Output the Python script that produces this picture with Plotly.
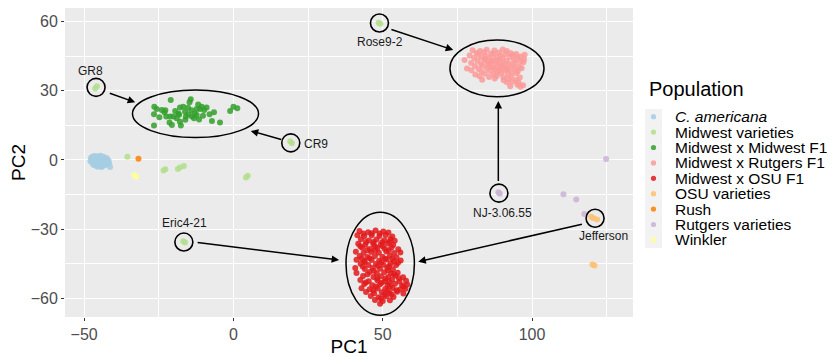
import plotly.graph_objects as go

# ---------------- data ----------------
populations = ["C. americana", "Midwest varieties", "Midwest x Midwest F1",
               "Midwest x Rutgers F1", "Midwest x OSU F1", "OSU varieties",
               "Rush", "Rutgers varieties", "Winkler"]
legend_labels = ["<i>C. americana</i>", "Midwest varieties", "Midwest x Midwest F1",
                 "Midwest x Rutgers F1", "Midwest x OSU F1", "OSU varieties",
                 "Rush", "Rutgers varieties", "Winkler"]
colors = ["#A6CEE3", "#B2DF8A", "#33A02C", "#FB9A99", "#E31A1C",
          "#FDBF6F", "#FF7F00", "#CAB2D6", "#FFFF99"]

camericana_x = [-47.7, -47.3, -46.9, -46.1, -45.3, -44.6, -43.8, -43.0, -42.3,
                -47.6, -47.0, -46.3, -45.5, -44.8, -44.0, -43.2, -42.5, -41.8,
                -47.9, -47.4, -46.7, -45.8, -45.0, -44.2, -43.4, -42.6, -41.9,
                -47.2, -46.4, -45.6, -44.7, -43.9, -43.1, -42.4,
                -46.8, -45.9, -45.1, -44.3, -43.5, -42.8,
                -41.3, -41.6, -45.4, -44.1]
camericana_y = [0.8, 1.3, 1.6, 1.7, 1.4, 1.8, 1.5, 1.1, 0.6,
                0.2, 0.6, 1.0, 0.4, 0.8, 0.3, 0.5, 0.0, -0.3,
                -0.6, -0.4, -0.1, -0.7, -0.2, -0.5, -0.9, -0.7, -1.1,
                -1.4, -1.1, -1.7, -1.3, -1.9, -1.5, -2.0,
                -2.2, -2.6, -2.3, -2.7, -2.4, -2.1,
                -3.0, -1.5, -2.9, -3.1]

midwest_var_x = [-35.5, -23.4, -22.8, -18.6, -17.9, -16.6, 4.2, 4.8,
                 -46.3, -45.7, 19.0, 19.6, -16.8, -16.2, 48.6, 49.2]
midwest_var_y = [1.4, -4.6, -4.0, -3.9, -3.3, -2.6, -7.6, -6.8,
                 31.0, 32.0, 8.1, 7.3, -35.2, -35.8, 59.5, 59.1]

mxm_pts = [(-21.0, 26.0), (-14.3, 26.3), (-14.7, 25.0), (-26.5, 23.1), (-25.7, 22.1),
           (-24.0, 21.7), (-26.6, 19.8), (-24.8, 18.5), (-23.1, 20.7), (-21.2, 18.8),
           (-19.5, 21.2), (-17.9, 22.7), (-16.8, 23.1), (-16.2, 20.9), (-15.1, 19.8),
           (-13.9, 18.8), (-13.2, 18.1), (-12.3, 19.5), (-11.2, 22.1), (-10.6, 23.1),
           (-9.8, 21.7), (-8.0, 19.8), (-6.5, 20.7), (-7.2, 16.9), (-4.5, 16.2),
           (-19.0, 18.1), (-17.9, 16.6), (-17.6, 14.9), (-21.4, 16.3), (-20.6, 15.2),
           (-26.6, 14.9), (-1.1, 21.2), (0.0, 23.1), (1.3, 22.4), (-15.9, 18.8),
           (-18.4, 20.2), (-20.1, 18.8), (-12.3, 22.1), (-22.5, 18.8), (-14.0, 21.6),
           (-13.0, 20.3), (-16.1, 17.4), (-11.8, 24.0), (-10.2, 19.2), (-18.2, 19.6),
           (-15.2, 22.6), (-11.5, 17.6), (-22.8, 21.6), (-9.0, 22.8)]

mxr_pts = [(80.1, 47.6), (82.6, 47.3), (84.8, 47.8), (87.4, 47.5), (90.2, 47.9), (91.6, 47.2),
           (81.4, 46.4), (83.9, 46.7), (86.3, 46.2), (88.9, 46.6), (92.9, 46.3), (94.7, 46.0), (97.5, 45.6),
           (79.1, 45.3), (82.1, 45.6), (84.6, 45.1), (87.1, 45.7), (89.4, 45.2), (91.1, 45.8), (93.6, 45.4), (96.1, 44.9),
           (80.6, 44.2), (83.1, 44.5), (85.8, 44.0), (88.1, 44.4), (90.2, 44.1), (92.6, 44.6), (95.1, 44.2), (97.3, 43.6),
           (77.4, 43.3), (81.7, 43.0), (84.3, 43.4), (86.6, 43.1), (89.1, 43.5), (91.5, 43.0), (93.9, 43.3), (96.2, 42.8),
           (79.6, 42.1), (82.9, 41.8), (85.1, 42.3), (87.9, 41.9), (90.1, 42.2), (92.3, 41.7), (94.4, 42.0), (97.1, 42.4),
           (80.9, 40.7), (83.4, 40.9), (86.1, 40.5), (88.6, 40.9), (91.1, 40.6), (93.3, 40.8), (95.7, 40.4),
           (78.2, 39.7), (82.1, 39.4), (84.9, 39.8), (87.3, 39.5), (89.7, 39.9), (92.1, 39.3), (94.3, 39.6), (96.5, 39.8),
           (79.7, 38.9), (83.1, 38.4), (85.9, 38.6), (88.4, 38.3), (90.9, 38.7), (93.1, 38.2), (95.2, 38.5),
           (81.0, 37.1), (84.2, 37.4), (87.1, 37.2), (89.6, 37.5), (91.9, 37.0), (94.8, 37.6),
           (82.4, 36.3), (85.6, 36.0), (88.1, 36.4), (90.4, 35.9), (93.1, 36.2), (95.9, 35.8),
           (83.3, 34.8), (87.5, 35.3), (90.5, 34.6), (92.1, 35.0), (94.6, 34.7),
           (91.6, 33.7), (93.5, 33.9), (95.5, 33.6),
           (92.7, 32.0), (95.1, 32.6), (97.0, 32.4), (96.1, 31.7),
           (86.4, 42.7), (88.2, 43.0), (89.9, 41.1), (87.0, 40.1), (89.0, 38.9), (91.4, 39.6),
           (85.4, 41.2), (84.2, 43.9)]

mxo_pts = [(42.2, -30.8), (45.1, -31.3), (47.6, -30.6), (50.2, -31.0), (51.9, -31.5),
           (41.5, -32.6), (43.8, -33.1), (46.3, -32.7), (48.9, -33.0), (51.0, -32.5), (53.2, -33.2),
           (42.7, -34.4), (45.4, -34.9), (47.9, -34.5), (50.5, -34.8), (52.6, -34.3), (54.0, -35.0),
           (41.8, -36.3), (44.2, -36.8), (46.8, -36.4), (49.3, -36.7), (51.7, -36.2), (53.5, -36.9),
           (43.1, -38.1), (45.7, -38.6), (48.2, -38.2), (50.6, -38.5), (52.9, -38.0), (55.2, -38.7),
           (41.0, -39.8), (43.6, -40.3), (46.1, -39.9), (48.7, -40.2), (51.2, -39.7), (53.8, -40.4), (55.9, -40.1),
           (42.3, -41.6), (44.9, -42.1), (47.4, -41.7), (49.9, -42.0), (52.4, -41.5), (54.6, -42.2),
           (41.2, -43.3), (43.8, -43.8), (46.3, -43.4), (48.8, -43.7), (51.3, -43.2), (53.7, -43.9), (56.0, -43.6),
           (42.6, -45.0), (45.2, -45.5), (47.7, -45.1), (50.2, -45.4), (52.6, -44.9), (54.5, -45.6),
           (40.8, -46.8), (44.0, -47.3), (46.6, -46.9), (49.1, -47.2), (51.5, -46.7), (53.4, -47.4),
           (41.2, -49.0), (45.6, -48.6), (48.0, -49.1), (50.5, -48.7), (52.8, -49.2), (55.0, -48.9),
           (43.4, -50.3), (46.9, -50.8), (49.4, -50.4), (51.9, -50.7), (54.3, -50.2), (56.8, -50.9),
           (42.5, -52.1), (45.3, -52.6), (48.2, -52.2), (50.7, -52.5), (53.1, -52.0), (55.6, -52.7), (57.8, -52.4),
           (43.8, -53.8), (46.5, -54.3), (49.1, -53.9), (51.6, -54.2), (54.1, -53.7), (56.5, -54.4), (58.2, -54.0),
           (42.9, -55.6), (45.6, -56.1), (48.3, -55.7), (50.8, -56.0), (53.3, -55.5), (55.8, -56.2), (57.6, -55.9),
           (44.4, -57.3), (47.1, -57.8), (49.7, -57.4), (52.3, -57.7), (54.8, -57.2), (56.9, -57.9),
           (46.0, -59.0), (48.6, -59.5), (51.1, -59.1), (53.6, -59.4),
           (47.4, -60.7), (50.0, -61.2), (52.4, -60.8), (49.1, -62.4),
           (43.5, -31.9), (46.3, -31.8), (49.0, -31.9), (44.4, -35.6), (47.0, -35.6), (49.8, -35.7),
           (52.3, -35.5), (42.5, -37.4), (47.4, -37.5), (50.0, -37.4), (44.8, -39.2), (47.4, -39.1),
           (52.0, -39.2), (43.0, -42.7), (45.6, -42.6), (50.8, -42.8), (53.2, -42.7), (44.0, -44.3),
           (49.5, -44.4), (55.1, -44.6), (43.3, -46.2), (48.4, -46.0), (52.1, -46.1), (47.0, -48.0),
           (51.8, -47.9), (44.9, -49.6), (53.8, -49.6), (48.2, -51.3), (50.9, -51.4), (55.4, -51.3),
           (44.3, -53.1), (49.6, -53.2), (52.2, -53.0), (47.7, -54.9), (52.4, -54.8), (57.0, -54.9),
           (46.8, -56.6), (51.6, -56.7), (54.6, -56.5), (50.5, -58.5), (53.0, -58.3), (49.4, -60.1)]

osu_x = [119.8, 120.6, 121.8, 120.2, 120.9]
osu_y = [-24.6, -25.3, -25.8, -45.3, -45.8]
rush_x = [-31.8]
rush_y = [0.5]
rutgers_x = [88.7, 89.2, 110.5, 114.8, 117.5, 124.8]
rutgers_y = [-14.0, -14.7, -14.9, -17.1, -23.4, 0.4]
winkler_x = [-33.2, -32.5]
winkler_y = [-6.6, -7.3]

# highlighted individuals (circled)
highlight_names = ["GR8", "CR9", "Eric4-21", "Rose9-2", "NJ-3.06.55", "Jefferson"]
highlight_x = [-46.0, 19.2, -16.6, 48.9, 88.9, 121.1]
highlight_y = [31.5, 7.4, -35.6, 59.4, -14.4, -25.3]

# ---------------- figure ----------------
series = [
    (camericana_x, camericana_y),
    (midwest_var_x, midwest_var_y),
    ([p[0] for p in mxm_pts], [p[1] for p in mxm_pts]),
    ([p[0] for p in mxr_pts], [p[1] for p in mxr_pts]),
    ([p[0] for p in mxo_pts], [p[1] for p in mxo_pts]),
    (osu_x, osu_y),
    (rush_x, rush_y),
    (rutgers_x, rutgers_y),
    (winkler_x, winkler_y),
]

fig = go.Figure()
for name, (xs, ys), col in zip(populations, series, colors):
    fig.add_trace(go.Scatter(
        x=xs, y=ys, mode="markers", name=name, showlegend=False,
        marker=dict(color=col, size=6, opacity=0.85, line=dict(width=0)),
    ))

fig.add_trace(go.Scatter(
    x=highlight_x, y=highlight_y, mode="markers", showlegend=False,
    marker=dict(symbol="circle-open", size=18, color="black", line=dict(width=1.6)),
    hoverinfo="skip",
))

FONT = "Liberation Sans, Arial, Helvetica, sans-serif"

# label text placement (layout)
label_pos = {
    "GR8": (-47.7, 38.7, "center"),
    "CR9": (22.8, 7.0, "left"),
    "Eric4-21": (-16.5, -27.4, "center"),
    "Rose9-2": (49.1, 51.0, "center"),
    "NJ-3.06.55": (90.2, -22.8, "center"),
    "Jefferson": (123.9, -32.9, "center"),
}
annotations = []
for n in highlight_names:
    lx, ly, anc = label_pos[n]
    annotations.append(dict(x=lx, y=ly, xref="x", yref="y", text=n, showarrow=False,
                            xanchor=anc, yanchor="middle",
                            font=dict(family=FONT, size=12, color="#1a1a1a")))

# arrows: (tail x, tail y, head x, head y)
arrows = [(-41.9, 29.2, -32.9, 25.0),
          (16.5, 8.7, 5.8, 12.6),
          (52.4, 56.8, 73.6, 47.7),
          (88.7, -9.8, 88.7, 25.6),
          (-12.5, -35.7, 35.4, -43.4),
          (117.2, -27.7, 61.9, -44.1)]
for tx, ty, hx, hy in arrows:
    annotations.append(dict(x=hx, y=hy, ax=tx, ay=ty, xref="x", yref="y", axref="x", ayref="y",
                            text="", showarrow=True, arrowhead=2, arrowsize=1, arrowwidth=1.5,
                            arrowcolor="black", standoff=0, startstandoff=0))

# ellipses around F1 clusters
ellipses = [(-33.8, 8.4, 9.7, 30.3), (72.5, 104.0, 27.4, 52.0), (37.7, 60.6, -67.3, -22.7)]
shapes = []
for x0, x1, y0, y1 in ellipses:
    shapes.append(dict(type="circle", xref="x", yref="y", x0=x0, x1=x1, y0=y0, y1=y1,
                       line=dict(color="black", width=1.5), layer="above"))

# ---------------- manual ggplot-like legend ----------------
# page body has an 8px default margin, so the figure is placed at (8, 8)
OFF = 8
W, H = 835 - OFF, 357 - OFF
PL, PR, PT, PB = 65, 633, 8, 317   # plot panel edges in window pixels


def px2paper(px, py):
    return (px - PL) / (PR - PL), (PB - py) / (PB - PT)


tx, ty = px2paper(647, 89)
annotations.append(dict(x=tx, y=ty, xref="paper", yref="paper", text="Population",
                        showarrow=False, xanchor="left", yanchor="middle",
                        font=dict(family=FONT, size=20, color="black")))
row0, step = 116.7, 15.4
sx0, sy0 = px2paper(645, 109)
sx1, sy1 = px2paper(662, 248)
shapes.append(dict(type="rect", xref="paper", yref="paper", x0=sx0, x1=sx1, y0=sy1, y1=sy0,
                   fillcolor="#F2F2F2", line=dict(width=0), layer="below"))
for i, (lab, col) in enumerate(zip(legend_labels, colors)):
    py = row0 + i * step
    kx, ky = px2paper(653.5, py)
    shapes.append(dict(type="circle", xref="paper", yref="paper", xsizemode="pixel",
                       ysizemode="pixel", xanchor=kx, yanchor=ky, x0=-2.6, x1=2.6,
                       y0=-2.6, y1=2.6, fillcolor=col, opacity=0.85, line=dict(width=0)))
    lx, ly = px2paper(673, py)
    annotations.append(dict(x=lx, y=ly, xref="paper", yref="paper", text=lab,
                            showarrow=False, xanchor="left", yanchor="middle",
                            font=dict(family=FONT, size=15.5, color="black")))

axis_common = dict(
    showgrid=True, gridcolor="white", gridwidth=1.1, zeroline=False,
    ticks="outside", ticklen=3, tickcolor="#333333", tickwidth=1,
    tickfont=dict(family=FONT, size=16, color="#4D4D4D"),
    showline=False, automargin=False,
)

fig.update_layout(
    width=W, height=H,
    margin=dict(l=PL - OFF, r=835 - PR, t=PT - OFF, b=357 - PB),
    paper_bgcolor="white", plot_bgcolor="#EBEBEB",
    font=dict(family=FONT),
    xaxis=dict(range=[-56.4, 133.8], tickmode="array", tickvals=[-50, 0, 50, 100],
               minor=dict(tickmode="array", tickvals=[-25, 25, 75, 125], showgrid=True,
                          gridcolor="white", gridwidth=0.55),
               title=dict(text="PC1", font=dict(family=FONT, size=19, color="black"), standoff=0),
               **axis_common),
    yaxis=dict(range=[-68.1, 65.9], tickmode="array", tickvals=[-60, -30, 0, 30, 60],
               minor=dict(tickmode="array", tickvals=[-45, -15, 15, 45], showgrid=True,
                          gridcolor="white", gridwidth=0.55),
               title=dict(text="PC2", font=dict(family=FONT, size=19, color="black"), standoff=4),
               **axis_common),
    annotations=annotations, shapes=shapes, showlegend=False,
)

fig.write_html("out.html")
